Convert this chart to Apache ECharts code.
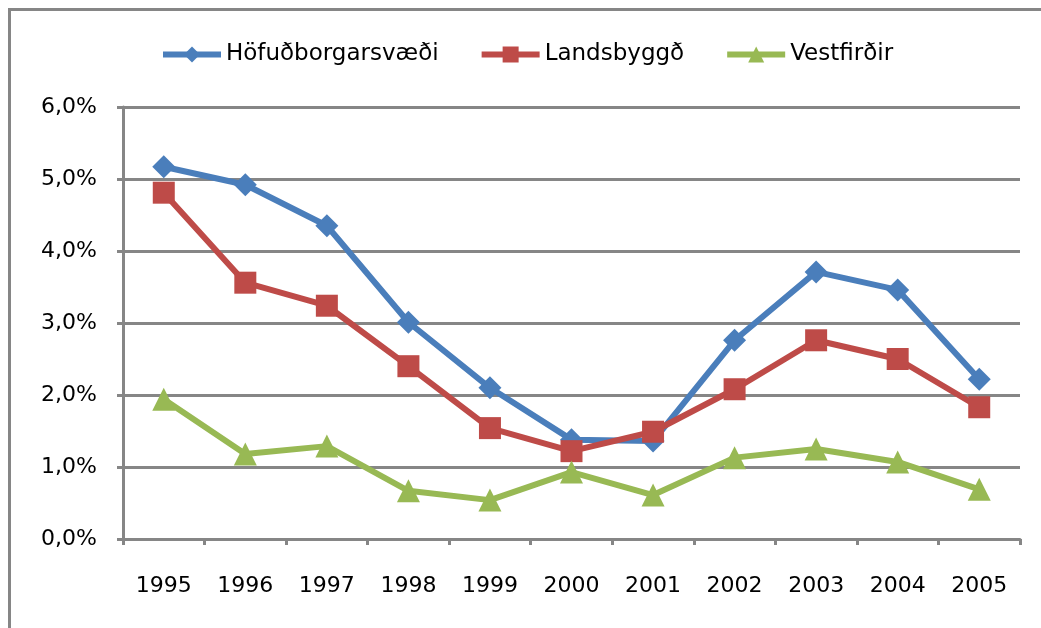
<!DOCTYPE html>
<html>
<head>
<meta charset="utf-8">
<script src="https://cdn.jsdelivr.net/npm/echarts@6/dist/echarts.min.js"></script>
<style>html,body{margin:0;padding:0;background:#fff}#c{width:1041px;height:628px}</style>
</head>
<body>
<div id="c"></div>
<script>
const categories = ['1995','1996','1997','1998','1999','2000','2001','2002','2003','2004','2005'];
const hofudborgarsvaedi = [5.17, 4.92, 4.35, 3.01, 2.10, 1.38, 1.36, 2.76, 3.71, 3.46, 2.22];
const landsbyggd = [4.81, 3.56, 3.24, 2.40, 1.54, 1.22, 1.49, 2.08, 2.76, 2.50, 1.83];
const vestfirdir = [1.94, 1.18, 1.29, 0.67, 0.54, 0.93, 0.61, 1.13, 1.25, 1.07, 0.69];
const seriesNames = ['Höfuðborgarsvæði', 'Landsbyggð', 'Vestfirðir'];

const font = 'DejaVu Sans';
const gray = '#868686';
const chart = echarts.init(document.getElementById('c'), null, {renderer: 'canvas'});
function mk(name, data, color, symbol, size) {
  return {
    name, type: 'line', data, symbol, symbolSize: size,
    lineStyle: {color, width: 6},
    itemStyle: {color},
    emphasis: {disabled: true}
  };
}
chart.setOption({
  animation: false,
  graphic: [{
    type: 'rect', left: 7, top: 7, silent: true,
    shape: {x: 0, y: 0, width: 1200, height: 800},
    style: {fill: 'none', stroke: gray, lineWidth: 3}
  }],
  legend: {
    top: 38, left: 155,
    itemWidth: 58, itemHeight: 20, itemGap: 40,
    lineStyle: {width: 6},
    textStyle: {fontFamily: font, fontSize: 23, color: '#000'},
    data: seriesNames
  },
  grid: {left: 123, right: 21, top: 107, bottom: 89},
  xAxis: {
    type: 'category', data: categories, boundaryGap: true,
    axisLine: {lineStyle: {color: gray, width: 3}},
    axisTick: {show: true, length: 6, lineStyle: {color: gray, width: 3}},
    axisLabel: {fontFamily: font, fontSize: 22, color: '#000', margin: 36}
  },
  yAxis: {
    type: 'value', min: 0, max: 6, interval: 1,
    axisLine: {show: true, lineStyle: {color: gray, width: 3}},
    axisTick: {show: true, length: 6, lineStyle: {color: gray, width: 3}},
    splitLine: {lineStyle: {color: gray, width: 3}},
    axisLabel: {fontFamily: font, fontSize: 22, color: '#000', margin: 26,
      formatter: v => v.toFixed(1).replace('.', ',') + '%'}
  },
  series: [
    mk(seriesNames[0], hofudborgarsvaedi, '#4A7EBB', 'diamond', 23),
    mk(seriesNames[1], landsbyggd, '#BE4B48', 'rect', 22),
    mk(seriesNames[2], vestfirdir, '#98B954', 'triangle', 23)
  ]
});
</script>
</body>
</html>
